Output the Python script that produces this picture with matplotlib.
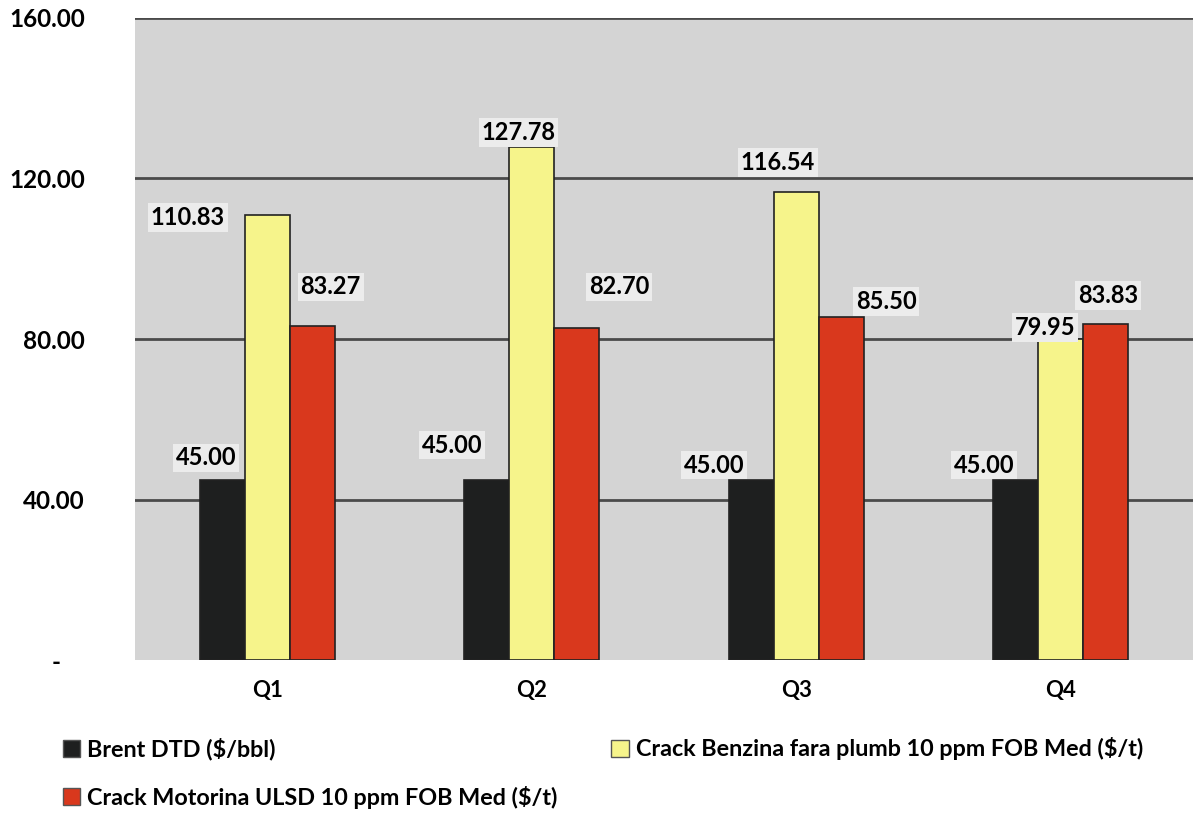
import numpy as np
import matplotlib.pyplot as plt
from matplotlib.patches import Patch

plt.rcParams['font.family'] = ['Lato', 'DejaVu Sans']

quarters = ["Q1", "Q2", "Q3", "Q4"]
brent = [45.00, 45.00, 45.00, 45.00]
benzina = [110.83, 127.78, 116.54, 79.95]
motorina = [83.27, 82.70, 85.50, 83.83]
series_names = ["Brent DTD ($/bbl)",
                "Crack Benzina fara plumb 10 ppm FOB Med ($/t)",
                "Crack Motorina ULSD 10 ppm FOB Med ($/t)"]
y_ticks = [0, 40, 80, 120, 160]
y_tick_labels = ["-    ", "40.00", "80.00", "120.00", "160.00"]

# label nudges (x in category units, y in data units), as placed in the original
lbl_dx = [[-0.06, -0.13, -0.14, -0.12],
          [-0.30, -0.05, -0.07, -0.06],
          [0.07, 0.16, 0.17, 0.01]]
lbl_dy = [[5.4, 8.6, 3.6, 3.6],
          [-0.6, 3.6, 7.5, 2.9],
          [9.7, 10.3, 3.8, 7.0]]

colors = ["#1e1f1f", "#f6f48b", "#d9381d"]
bg = "#d4d4d4"

fig = plt.figure(figsize=(11.93, 8.14), dpi=100)
ax = fig.add_axes([0.113, 0.189, 0.887, 0.789])
ax.set_facecolor(bg)

x = np.arange(len(quarters))
w = 0.17
data = [brent, benzina, motorina]
for i, vals in enumerate(data):
    ax.bar(x + (i - 1) * w, vals, width=w, color=colors[i],
           edgecolor="#222222", linewidth=1.2, zorder=3)
    for j, v in enumerate(vals):
        ax.text(x[j] + (i - 1) * w + lbl_dx[i][j], v + lbl_dy[i][j], f"{v:.2f}",
                ha="center", va="center", fontsize=17, fontweight="bold",
                color="black", zorder=5,
                bbox=dict(boxstyle="square,pad=0.12", fc="#ececec", ec="none"))

ax.set_xlim(-0.5, len(quarters) - 0.5)
ax.set_ylim(0, 160)
ax.set_yticks(y_ticks)
ax.set_yticklabels(y_tick_labels)
ax.set_xticks(x)
ax.set_xticklabels(quarters)
ax.tick_params(axis="y", length=0, pad=36, labelsize=17.5)
ax.tick_params(axis="x", length=0, pad=14, labelsize=16)
for lab in ax.get_yticklabels():
    lab.set_fontweight("bold")
for lab in ax.get_xticklabels():
    lab.set_fontweight("bold")

for yv in y_ticks[1:]:
    ax.axhline(yv, color="#4a4a4a", linewidth=2, zorder=2)
for s in ax.spines.values():
    s.set_visible(False)

handles = [Patch(facecolor=colors[0], edgecolor="#555555", label=series_names[0]),
           Patch(facecolor=colors[2], edgecolor="#555555", label=series_names[2]),
           Patch(facecolor=colors[1], edgecolor="#555555", label=series_names[1])]
fig.legend(handles=handles, ncol=2, loc="upper left", bbox_to_anchor=(0.035, 0.12),
           frameon=False, prop={"size": 16.8, "weight": "bold"},
           handlelength=0.75, handleheight=0.75, handletextpad=0.3,
           columnspacing=2.3, labelspacing=1.1)

fig.savefig("out.png", dpi=100)
